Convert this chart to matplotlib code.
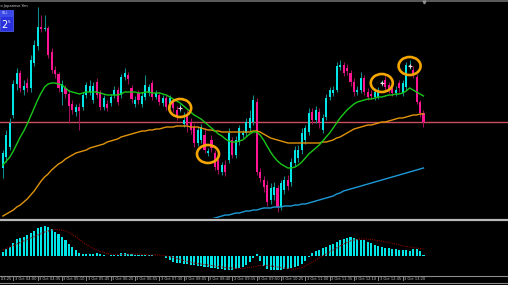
import numpy as np
import matplotlib
matplotlib.use('Agg')
import matplotlib.pyplot as plt
from matplotlib.patches import Ellipse, Rectangle
from matplotlib.lines import Line2D
from matplotlib.transforms import blended_transform_factory

# price in points (chart has no price scale visible)
open_ = [52, 63, 73, 105, 136, 147, 130, 137, 132, 157,
         174, 193, 191, 192, 168, 150, 146, 128, 132, 126,
         116, 108, 113, 113, 125, 128, 120, 138, 127, 113,
         116, 117, 125, 130, 125, 143, 145, 132, 116, 127,
         116, 123, 127, 137, 123, 125, 117, 122, 115, 118,
         110, 111, 96, 105, 98, 93, 77, 80, 85, 67,
         80, 67, 60, 48, 55, 60, 80, 65, 78, 85,
         87, 92, 98, 118, 48, 40, 35, 20, 25, 32,
         13, 30, 40, 38, 57, 62, 70, 80, 88, 108,
         100, 108, 90, 103, 123, 127, 130, 153, 155, 152,
         147, 138, 128, 130, 142, 128, 126, 123, 123, 137,
         140, 135, 135, 127, 137, 127, 133, 154, 150, 143,
         118, 107]
close_ = [67, 85, 97, 136, 147, 132, 134, 132, 160, 175,
          193, 191, 192, 165, 150, 146, 132, 136, 126, 114,
          110, 113, 109, 125, 135, 134, 134, 125, 113, 122,
          112, 123, 130, 118, 143, 147, 141, 121, 120, 120,
          124, 135, 133, 123, 127, 118, 122, 113, 122, 112,
          104, 112, 100, 95, 90, 77, 90, 93, 70, 69,
          72, 53, 50, 55, 48, 87, 65, 80, 92, 87,
          98, 102, 120, 48, 42, 33, 18, 32, 33, 13,
          37, 40, 34, 58, 70, 70, 87, 92, 107, 100,
          110, 97, 102, 122, 130, 130, 154, 155, 147, 149,
          138, 128, 130, 142, 128, 123, 124, 128, 128, 138,
          133, 130, 127, 130, 132, 137, 155, 155, 145, 118,
          107, 98]
high_ = [70, 90, 102, 140, 152, 150, 140, 142, 165, 180,
         213, 205, 205, 194, 172, 154, 148, 140, 135, 130,
         120, 116, 117, 128, 138, 140, 138, 142, 130, 125,
         120, 126, 134, 133, 146, 152, 148, 135, 124, 130,
         128, 145, 136, 140, 130, 128, 125, 125, 125, 121,
         114, 116, 108, 110, 102, 96, 94, 96, 92, 72,
         85, 70, 64, 58, 60, 92, 83, 84, 95, 90,
         102, 110, 125, 122, 52, 44, 40, 37, 38, 35,
         40, 44, 45, 62, 74, 75, 92, 95, 112, 112,
         114, 112, 106, 126, 133, 134, 158, 160, 158, 156,
         150, 142, 134, 148, 145, 132, 130, 132, 133, 140,
         144, 138, 140, 134, 140, 140, 158, 160, 154, 146,
         120, 110]
low_ = [42, 58, 70, 102, 130, 128, 125, 128, 128, 154,
        170, 188, 189, 162, 147, 142, 128, 115, 122, 97,
        106, 104, 90, 110, 122, 125, 117, 122, 110, 110,
        109, 114, 122, 115, 122, 140, 136, 117, 113, 116,
        113, 120, 124, 120, 121, 115, 114, 110, 112, 108,
        100, 108, 93, 88, 86, 73, 74, 77, 67, 64,
        68, 50, 46, 45, 44, 57, 62, 62, 75, 82,
        84, 89, 95, 45, 38, 28, 14, 16, 20, 8,
        10, 26, 30, 34, 53, 58, 66, 76, 85, 96,
        97, 92, 87, 100, 120, 124, 128, 150, 144, 145,
        134, 124, 125, 127, 125, 120, 121, 120, 121, 134,
        130, 127, 124, 124, 128, 124, 130, 151, 142, 116,
        103, 93]

ma_fast = [55, 59, 63, 69, 76, 83, 89, 96, 104, 112,
           120, 127, 133, 136, 137, 137, 136, 135, 132, 129,
           128, 127, 126, 127, 128, 128, 128, 128, 127, 126,
           125, 125, 125, 125, 126, 128, 128, 128, 128, 127,
           127, 128, 128, 127, 127, 127, 126, 125, 123, 121,
           119, 117, 114, 111, 108, 105, 103, 101, 98, 95,
           92, 89, 86, 84, 81, 79, 78, 78, 79, 80,
           83, 86, 88, 88, 85, 80, 74, 68, 63, 59,
           56, 54, 52, 52, 53, 55, 58, 62, 66, 69,
           72, 75, 79, 83, 87, 92, 97, 102, 106, 110,
           113, 116, 118, 119, 120, 121, 121, 122, 123, 123,
           124, 125, 125, 126, 126, 127, 129, 132, 130, 128,
           126, 124]
ma_mid = [4, 6, 8, 10, 13, 15, 18, 21, 25, 29,
          34, 39, 43, 46, 50, 53, 56, 58, 61, 63,
          65, 67, 68, 69, 70, 72, 73, 74, 75, 76,
          78, 79, 80, 81, 83, 84, 85, 86, 87, 88,
          89, 89, 90, 90, 91, 91, 92, 93, 93, 93,
          94, 94, 94, 94, 93, 93, 93, 92, 91, 90,
          90, 89, 89, 88, 88, 88, 88, 88, 88, 88,
          88, 88, 89, 89, 88, 86, 84, 82, 81, 80,
          79, 78, 77, 77, 77, 77, 77, 77, 77, 77,
          77, 77, 78, 78, 79, 80, 82, 83, 85, 87,
          89, 91, 92, 93, 94, 95, 95, 96, 97, 98,
          98, 99, 100, 101, 102, 102, 103, 104, 105, 105,
          106, 106]
ma_slow_start = 58
ma_slow = [-1, 0, 1, 2, 3, 4, 5, 5, 6, 7, 7, 8,
           9, 9, 10, 10, 11, 12, 12, 12, 13, 13,
           13, 14, 14, 14, 15, 15, 16, 16, 17, 18,
           19, 20, 21, 22, 23, 24, 26, 27, 29, 30,
           31, 32, 33, 34, 35, 36, 37, 38, 39, 40,
           41, 42, 43, 44, 45, 46, 47, 48, 49, 50,
           51, 52]
level = 98

macd = [4.5, 7, 9, 13, 17, 18, 19, 21, 23, 25,
        28, 29, 30, 29, 27, 24, 22, 19, 16, 12,
        9, 6, 3, 2, 2, 2, 2, 3, 2, 1,
        0.5, 1, 1, 1, 3, 3, 2.5, 2, 1.5, 1,
        1, 1, 1, 1, 0.5, 0.5, 0.5, -2, -4, -6,
        -7, -7, -8, -8, -9, -9, -10, -10, -11, -11,
        -12, -12, -13, -13, -14, -14, -14, -13, -12, -11,
        -9, -6, -2, 2, -5, -10, -13, -14, -14, -14,
        -14, -13, -13, -12, -11, -10, -8, -5, -1, 3,
        5, 6, 8, 9, 11, 12.5, 14, 16, 17.5, 18.5,
        19, 18.5, 17.5, 16.5, 16, 14.5, 13, 11, 10.5, 9.5,
        8.5, 8, 7, 7, 6.5, 6, 6, 5.5, 7, 7.5,
        5, 1.5]
signal = [6, 7.5, 9, 10.5, 12, 13.5, 15, 16.5, 18, 19.5,
          21, 22.5, 24, 25, 26, 26.5, 26.5, 26, 25, 23.5,
          21.5, 19, 16.5, 14, 11.5, 9.5, 7.5, 6, 4.5, 3.5,
          2.5, 2, 1.5, 1.5, 1.5, 1.5, 2, 2, 2, 2,
          1.5, 1.5, 1, 1, 1, 1, 0.5, 0, -0.5, -1.5,
          -2.5, -3.5, -4.5, -5.5, -6, -7, -7.5, -8, -8.5, -9,
          -9.5, -10, -10.5, -11, -11.5, -12, -12, -12.5, -12.5, -12.5,
          -12, -11.5, -11, -10, -9.5, -9.5, -9.5, -10, -10.5, -11,
          -11.5, -12, -12.5, -13, -13, -12.5, -11.5, -10, -8, -6,
          -4, -2, 0, 2, 4, 6, 8, 10, 12, 13.5,
          15, 16, 16.5, 17, 17, 17, 16.5, 16, 15.5, 15,
          14, 13.5, 12.5, 12, 11, 10, 9.5, 9, 8.5, 8,
          7.5, 7]

# circled signals
mark_idx = [51, 59, 109, 117]
mark_price = [112, 66, 137, 154]

tick_idx = [-4, 3, 10, 17, 24, 31, 38, 45, 52, 59, 66, 73, 80, 87, 94, 101, 108, 115]
tick_labels = ['3 Oct 03:25', '3 Oct 04:00', '3 Oct 04:35', '3 Oct 05:10', '3 Oct 05:45',
               '3 Oct 06:20', '3 Oct 06:55', '3 Oct 07:30', '3 Oct 08:05', '3 Oct 08:40',
               '3 Oct 09:15', '3 Oct 09:50', '3 Oct 10:25', '3 Oct 11:00', '3 Oct 11:35',
               '3 Oct 12:10', '3 Oct 12:45', '3 Oct 13:20']

W, H = 508, 285
fig = plt.figure(figsize=(W / 100, H / 100), dpi=100, facecolor='black')


def fy(py):
    return 1 - py / H


x0, dx = 2.9, 3.476
xlim = (-x0 / dx, (W - x0) / dx)

# main chart
ax = fig.add_axes([0, fy(218), 1, 216 / H])
ax.set_xlim(*xlim)
ax.set_ylim(2, 218)
ax.axis('off')

o = np.array(open_)
c = np.array(close_)
hi = np.array(high_)
lo = np.array(low_)
idx = np.arange(len(c))
up = c >= o
body_col = np.where(up, '#00e6e6', '#ff1493')
wick_col = np.where(up, '#108c8c', '#a0105a')

ax.axhline(level, color='#c8505c', lw=1.0, zorder=1)
ax.vlines(idx, lo, hi, colors=wick_col, lw=0.75, zorder=2)
ax.bar(idx, np.maximum(np.abs(c - o), 0.8), bottom=np.minimum(o, c), width=0.6,
       color=body_col, linewidth=0, zorder=3)

ax.plot(idx, ma_mid, color='#e0940a', lw=1.0, zorder=4)
ax.plot(idx, ma_fast, color='#18c818', lw=1.0, zorder=4)
ax.plot(np.arange(ma_slow_start, ma_slow_start + len(ma_slow)), ma_slow,
        color='#1e9ad8', lw=1.0, zorder=4)

for mi, mp in zip(mark_idx, mark_price):
    ax.add_patch(Ellipse((mi, mp), 22 / dx, 18, fill=False, ec='#f5a500', lw=1.9, zorder=5))
ax.plot([mark_idx[0], mark_idx[2], mark_idx[3]], [mark_price[0], mark_price[2], mark_price[3]],
        '+', color='#f0d0d8', ms=3, mew=0.8, zorder=6)

# indicator window
ax2 = fig.add_axes([0, fy(274), 1, 53 / H])
ax2.set_xlim(*xlim)
ax2.set_ylim(-18, 35)
ax2.axis('off')
ax2.bar(idx, macd, width=0.6, color='#00e5e5', linewidth=0)
ax2.plot(idx, signal, color='#8a0000', ls=(0, (1, 1)), lw=0.8)

# frame lines
for py, col, lw in [(0.7, '#5c5c5c', 1.4), (219.6, '#b8b8b8', 1.6),
                    (275.6, '#8c8c8c', 0.8), (283.4, '#8c8c8c', 0.8)]:
    fig.add_artist(Line2D([0, 1], [fy(py), fy(py)], color=col, lw=lw, transform=fig.transFigure))

# time axis
trans = blended_transform_factory(ax2.transData, fig.transFigure)
for t, lab in zip(tick_idx, tick_labels):
    ax2.add_line(Line2D([t, t], [fy(276), fy(280)], color='#a0a0a0', lw=0.6,
                        transform=trans, clip_on=False))
    ax2.text(t + 0.35, fy(279.2), lab, transform=trans, fontsize=2.6, color='#c8c8c8',
             va='center', ha='left', clip_on=False)

# symbol caption and trade panel
fig.text(-0.002, fy(6), 'ro Japanese Yen', fontsize=2.6, color='#d0d0d0', va='center', ha='left')
fig.add_artist(Rectangle((0, fy(31)), 12.5 / W, 21 / H, transform=fig.transFigure,
                         fc='#2a30dc', ec='#5868ff', lw=0.5))
fig.add_artist(Rectangle((0, fy(17)), 12.5 / W, 7 / H, transform=fig.transFigure,
                         fc='#3c4ae8', ec='none'))
fig.text(1.5 / W, fy(13.5), 'SELL', fontsize=2.0, color='#dde', va='center', ha='left')
fig.text(0.8 / W, fy(25.5), '2', fontsize=7, color='white', va='center', ha='left')
fig.text(7.2 / W, fy(22), '5', fontsize=3, color='white', va='center', ha='left')
fig.add_artist(Line2D([424 / W], [fy(2)], marker='v', ms=2, color='#909090',
                      transform=fig.transFigure, lw=0))

fig.savefig('out.png', dpi=100, facecolor='black')
